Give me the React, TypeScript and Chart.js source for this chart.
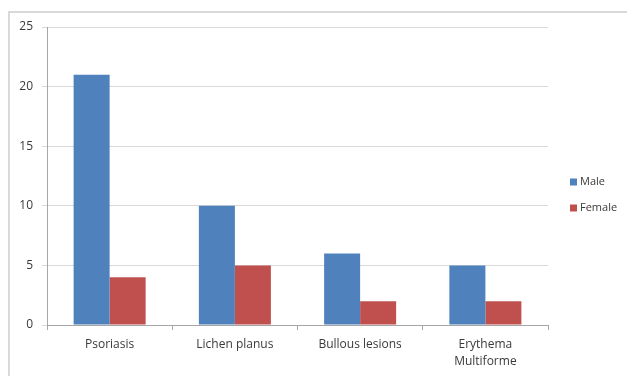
import React, { useEffect, useRef } from "react";
import { Chart, registerables } from "chart.js";

Chart.register(...registerables);

const categories: (string | string[])[] = ["Psoriasis", "Lichen planus", "Bullous lesions", ["Erythema", "Multiforme"]];
const maleValues = [21, 10, 6, 5];
const femaleValues = [4, 5, 2, 2];
const yTicks = [0, 5, 10, 15, 20, 25];

const FONT = "'Open Sans', 'Liberation Sans', sans-serif";
const TEXT = "#3a3a3a";

const framePlugin = {
  id: "frame",
  beforeDraw(chart: any) {
    const ctx = chart.ctx;
    ctx.save();
    ctx.fillStyle = "#ffffff";
    ctx.fillRect(0, 0, chart.width, chart.height);
    ctx.strokeStyle = "#d9d9d9";
    ctx.lineWidth = 2;
    ctx.beginPath();
    ctx.moveTo(9, chart.height);
    ctx.lineTo(9, 12);
    ctx.lineTo(chart.width, 12);
    ctx.stroke();
    ctx.restore();
  },
};

const legendPlugin = {
  id: "customLegend",
  afterDraw(chart: any) {
    const ctx = chart.ctx;
    ctx.save();
    ctx.font = `11px ${FONT}`;
    ctx.textBaseline = "middle";
    ctx.textAlign = "left";
    chart.data.datasets.forEach((ds: any, i: number) => {
      const cy = 182 + i * 26;
      ctx.fillStyle = ds.backgroundColor;
      ctx.fillRect(570, cy - 3.5, 7, 7);
      ctx.fillStyle = TEXT;
      ctx.fillText(ds.label, 580, cy);
    });
    ctx.restore();
  },
};

export default function App() {
  const ref = useRef<HTMLCanvasElement>(null);
  useEffect(() => {
    if (!ref.current) return;
    const chart = new Chart(ref.current, {
      type: "bar",
      data: {
        labels: categories,
        datasets: [
          { label: "Male", data: maleValues, backgroundColor: "#4f81bd", barPercentage: 1, categoryPercentage: 0.575 },
          { label: "Female", data: femaleValues, backgroundColor: "#c0504d", barPercentage: 1, categoryPercentage: 0.575 },
        ],
      },
      options: {
        responsive: false,
        animation: false,
        layout: { padding: { left: 0, right: 79, top: 27, bottom: 0 } },
        plugins: { legend: { display: false }, tooltip: { enabled: false } },
        scales: {
          x: {
            grid: { display: true, drawOnChartArea: false, drawTicks: true, tickLength: 5, color: "#a6a6a6", offset: true },
            border: { color: "#a6a6a6" },
            ticks: { color: TEXT, font: { family: FONT, size: 12, lineHeight: 1.4 }, padding: 6, maxRotation: 0, autoSkip: false },
            afterFit(scale: any) { scale.height = 51; },
          },
          y: {
            min: 0,
            max: 25,
            afterBuildTicks(scale: any) { scale.ticks = yTicks.map((v) => ({ value: v })); },
            grid: { color: "#d9d9d9", tickLength: 5, tickColor: "#d9d9d9" },
            border: { color: "#a6a6a6" },
            ticks: { color: TEXT, font: { family: FONT, size: 12 }, padding: 9 },
            afterFit(scale: any) { scale.width = 47; },
          },
        },
      },
      plugins: [framePlugin, legendPlugin],
    });
    return () => chart.destroy();
  }, []);
  return (
    <div style={{ position: "fixed", left: 0, top: 0, width: 627, height: 376 }}>
      <canvas ref={ref} width={627} height={376} style={{ display: "block", width: 627, height: 376 }} />
    </div>
  );
}
